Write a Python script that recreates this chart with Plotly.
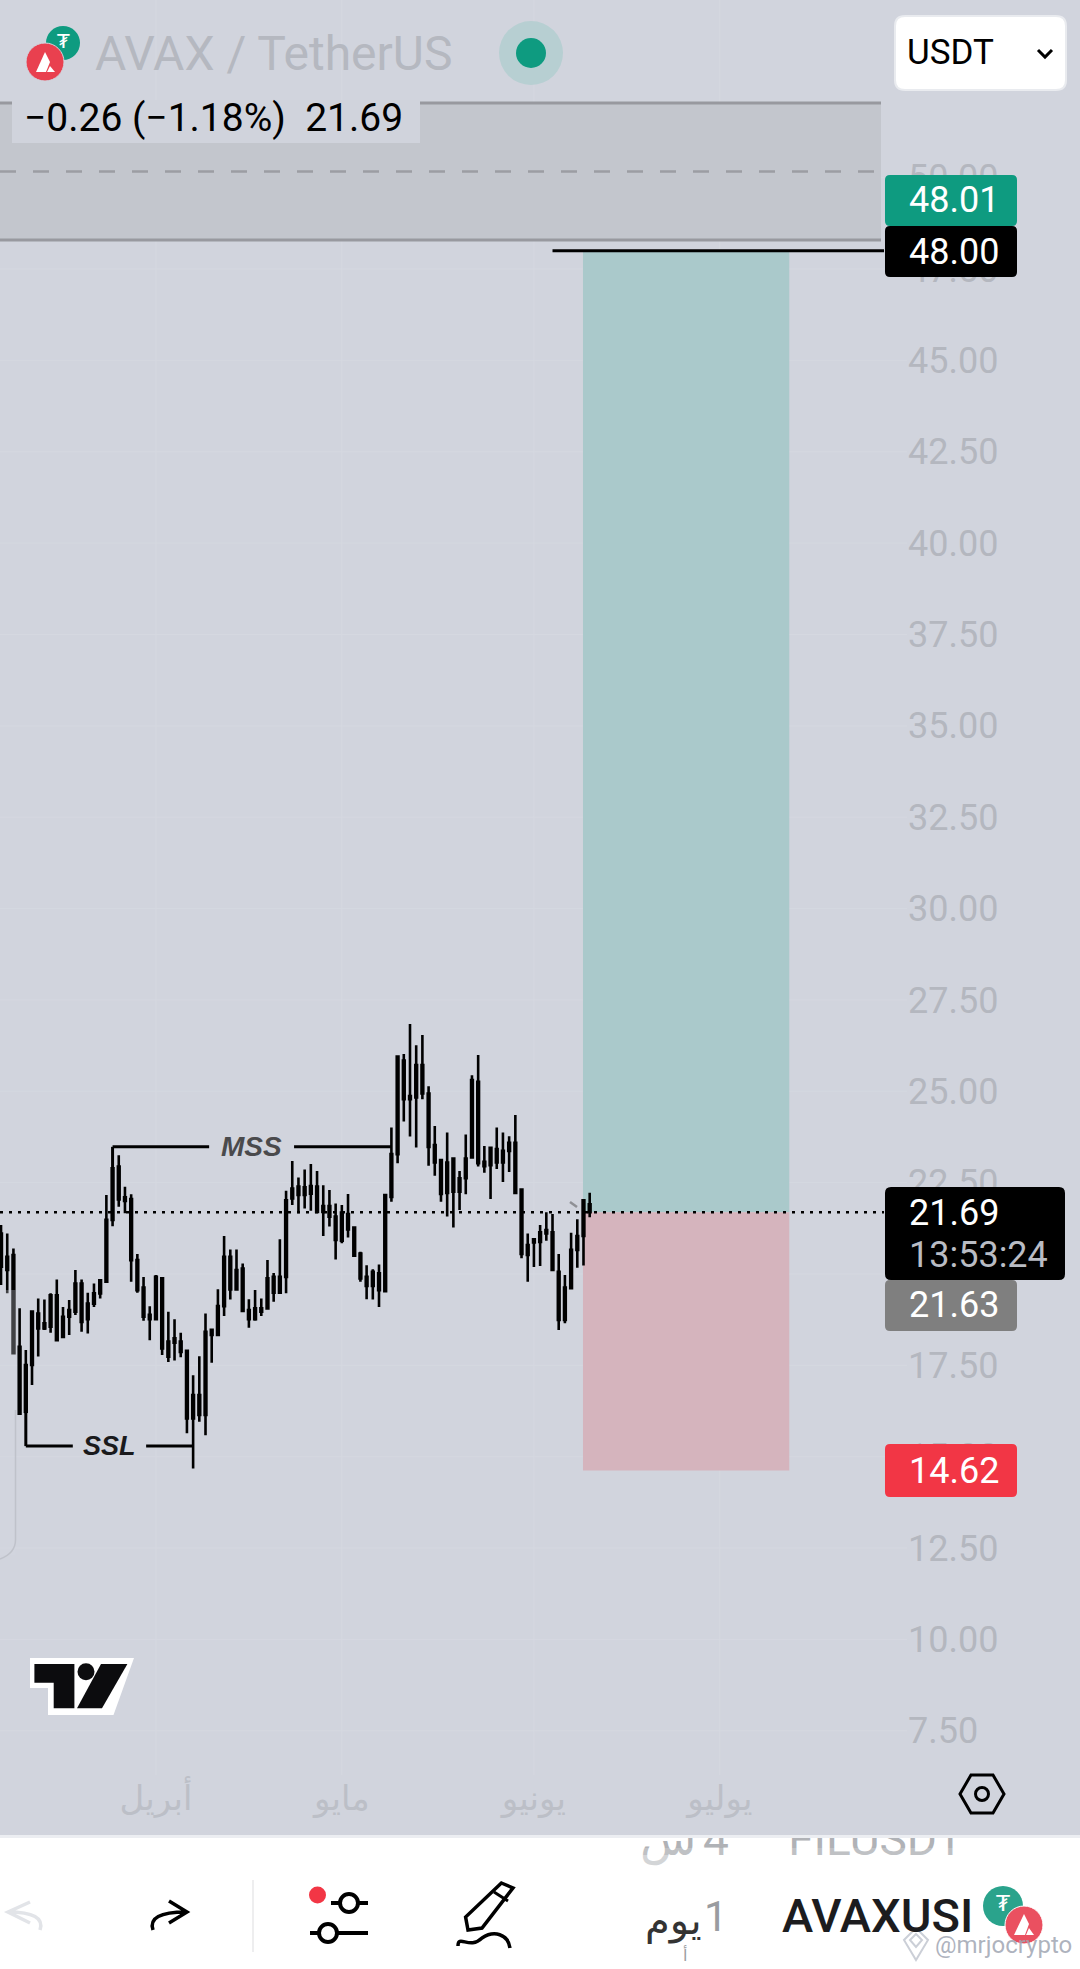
import pandas as pd
import plotly.graph_objects as go

W, H = 1080, 1969
BG = "#d1d4dd"
PANE_R = 907
PANE_B = 1775

# ---------- data ----------
dates = pd.date_range("2025-03-07", "2025-06-10", freq="D").strftime("%Y-%m-%d").tolist()
opens = [21.11,20.11,20.52,18.01,16.23,17.51,18.92,18.51,18.56,19.42,18.28,18.83,18.97,19.74,18.76,19.19,
         19.47,19.79,21.48,22.94,22.10,22.05,20.38,19.63,18.88,18.76,19.88,18.15,18.12,18.15,17.90,16.05,
         16.69,16.14,18.47,18.33,19.12,20.47,19.58,20.15,19.01,18.76,19.06,19.06,19.92,19.49,19.92,22.07,
         22.39,22.16,22.41,22.39,21.70,21.86,21.57,20.91,21.64,21.27,20.56,19.92,19.67,20.02,19.53,22.11,
         23.28,25.84,24.78,24.83,25.72,24.94,23.53,23.12,22.22,23.16,22.25,22.62,23.19,25.26,23.07,22.98,
         23.42,23.05,23.37,23.59,22.31,20.52,20.86,20.88,21.11,21.14,20.06,18.74,19.61,20.66,21.04,21.91]
highs = [21.34,21.11,20.70,19.06,17.92,18.97,19.33,19.30,19.47,19.85,19.10,19.29,20.11,19.85,19.49,19.74,
         19.85,22.16,22.89,23.25,22.39,22.18,20.55,19.92,19.12,19.97,19.92,18.97,18.76,18.39,17.92,17.23,
         17.75,18.92,18.47,19.58,21.04,20.67,20.67,20.29,19.31,19.56,19.33,20.38,20.03,20.95,22.28,23.09,
         22.64,22.86,23.01,22.82,22.43,22.30,21.93,21.89,22.19,21.27,20.61,20.24,20.13,20.26,22.19,24.01,
         25.95,26.02,26.84,26.26,26.54,25.14,24.05,23.14,23.87,23.19,22.82,23.82,25.44,25.99,23.50,23.48,
         24.01,23.87,23.77,24.35,22.34,21.11,20.97,21.34,21.69,21.64,20.55,19.97,21.13,21.50,22.04,22.22]
lows = [19.70,19.47,17.83,16.14,16.18,16.96,17.74,18.47,18.39,18.15,18.24,18.33,18.88,18.42,18.37,19.10,
        19.33,19.79,21.31,21.84,21.66,19.79,19.49,18.72,18.19,18.74,17.78,17.59,17.63,17.72,15.64,14.68,
        15.96,15.59,17.57,18.31,18.85,19.30,19.58,18.97,18.53,18.72,18.85,19.06,19.24,19.49,19.47,21.89,
        21.66,21.79,21.73,21.66,21.04,21.30,20.40,20.84,21.00,20.50,19.79,19.31,19.30,19.10,19.51,21.98,
        23.03,24.17,23.76,23.46,24.78,22.96,22.69,21.98,21.57,21.27,21.75,22.18,23.16,22.94,22.77,22.05,
        22.87,22.52,22.79,22.21,20.43,19.79,20.19,20.22,20.91,20.09,18.47,18.65,19.59,20.17,20.23,21.55]
closes = [20.20,20.47,17.83,16.18,17.51,18.97,18.51,18.65,19.42,18.19,18.83,19.01,19.74,18.69,19.19,19.47,
          19.83,21.48,22.89,22.04,22.00,20.38,19.56,18.83,18.76,19.92,17.96,17.74,18.24,17.87,16.05,16.69,
          16.14,18.42,18.33,19.12,20.47,19.58,20.11,18.99,18.76,19.06,18.97,19.88,19.49,19.92,22.02,22.34,
          22.16,22.37,22.20,21.70,21.86,21.57,20.93,21.68,21.22,20.50,19.88,19.67,20.06,19.56,22.16,23.28,
          25.95,24.78,24.87,25.72,24.94,23.48,23.05,22.19,23.05,22.25,22.62,23.16,25.31,23.03,22.95,23.45,
          23.05,23.37,23.59,22.22,20.55,20.79,20.95,21.14,21.20,20.11,18.74,19.63,20.66,21.04,22.02,21.69]

price_ticks = [7.5,10,12.5,15,17.5,20,22.5,25,27.5,30,32.5,35,37.5,40,42.5,45,47.5,50]
month_ticks = ["2025-04-01","2025-05-01","2025-06-01","2025-07-01"]
month_labels = ["أبريل","مايو","يونيو","يوليو"]

entry, target, stop = 21.69, 48.00, 14.62
mss_level, ssl_level = 23.48, 15.29

FONT = "Roboto, 'DejaVu Sans', sans-serif"
X_START, X_END = "2025-03-06 20:00", "2025-07-31 05:00"

# ---------- pixel helpers for the screen furniture ----------
def fx(x): return x / W
def fy(y): return 1 - y / H

def rect(x0, y0, x1, y1, fill, line=None, lw=0, layer="above"):
    return dict(type="rect", xref="paper", yref="paper", x0=fx(x0), x1=fx(x1), y0=fy(y0), y1=fy(y1),
                fillcolor=fill, line=dict(color=line or fill, width=lw), layer=layer)

def circle(cx, cy, r, fill, line=None, lw=0):
    return dict(type="circle", xref="paper", yref="paper", x0=fx(cx-r), x1=fx(cx+r), y0=fy(cy-r), y1=fy(cy+r),
                fillcolor=fill, line=dict(color=line or fill, width=lw), layer="above")

def path(cmds, fill="rgba(0,0,0,0)", line=None, lw=0, layer="above"):
    out = []
    for c in cmds:
        if isinstance(c, str):
            out.append(c)
        else:
            out.append(f"{fx(c[0]):.5f},{fy(c[1]):.5f}")
    return dict(type="path", xref="paper", yref="paper", path=" ".join(out), fillcolor=fill,
                line=dict(color=line or "rgba(0,0,0,0)", width=lw), layer=layer)

def rrect(x0, y0, x1, y1, r, fill, line=None, lw=0):
    return path(["M",(x0+r,y0),"L",(x1-r,y0),"Q",(x1,y0),(x1,y0+r),"L",(x1,y1-r),"Q",(x1,y1),(x1-r,y1),
                 "L",(x0+r,y1),"Q",(x0,y1),(x0,y1-r),"L",(x0,y0+r),"Q",(x0,y0),(x0+r,y0),"Z"], fill, line, lw)

def poly(pts, fill="rgba(0,0,0,0)", line=None, lw=0, close=True):
    cmds = ["M", pts[0]]
    for p in pts[1:]:
        cmds += ["L", p]
    if close:
        cmds.append("Z")
    return path(cmds, fill, line, lw)

def seg(x0, y0, x1, y1, color, w, dash="solid"):
    return dict(type="line", xref="paper", yref="paper", x0=fx(x0), x1=fx(x1), y0=fy(y0), y1=fy(y1),
                line=dict(color=color, width=w, dash=dash), layer="above")

def label(x, y, text, size, color, anchor="left", **font):
    return dict(xref="paper", yref="paper", x=fx(x), y=fy(y), text=text, showarrow=False, xanchor=anchor,
                yanchor="middle", font=dict(family=FONT, size=size, color=color, **font), borderpad=0)

def dline(x0, y0, x1, y1, color="#000", w=3, dash="solid", layer="above"):
    return dict(type="line", xref="x", yref="y", x0=x0, x1=x1, y0=y0, y1=y1,
                line=dict(color=color, width=w, dash=dash), layer=layer)

# ---------- figure ----------
fig = go.Figure()
fig.add_trace(go.Candlestick(
    x=dates, open=opens, high=highs, low=lows, close=closes,
    increasing=dict(line=dict(color="#000", width=2.6), fillcolor="#000"),
    decreasing=dict(line=dict(color="#000", width=2.6), fillcolor="#000"),
    whiskerwidth=0, hoverinfo="skip", showlegend=False))

# text that the pane edge clips, on a full-page pixel axis
clipped_x = [876, 668, 716]
clipped_y = [1843, 1843, 1843]
clipped_t = ["FILUSDT", "س", "4"]
fig.add_trace(go.Scatter(x=clipped_x, y=clipped_y, text=clipped_t, mode="text", xaxis="x2", yaxis="y2",
                         textposition="middle center", cliponaxis=False, hoverinfo="skip", showlegend=False,
                         textfont=dict(family=FONT, size=46, color="#b0b2b6")))

shapes = []
# white bottom bar, beneath the traces
shapes.append(rect(0, 1836, W, H, "#ffffff", layer="below"))

# faint grid, beneath the position box
grid = "#d5d8e0"
for p in price_ticks:
    shapes.append(dline(X_START, p, X_END, p, color=grid, w=1, layer="below"))
for m in month_ticks:
    shapes.append(dline(m, 6.29, m, 54.863, color=grid, w=1, layer="below"))

# long position box
shapes += [
    dict(type="rect", xref="x", yref="y", x0="2025-06-08 22:00", x1="2025-07-12 05:00", y0=entry, y1=target,
         fillcolor="#aac9cb", line=dict(width=0), layer="below"),
    dict(type="rect", xref="x", yref="y", x0="2025-06-08 22:00", x1="2025-07-12 05:00", y0=stop, y1=entry,
         fillcolor="#d5b4bd", line=dict(width=0), layer="below"),
]
# last price dotted line + target line
shapes.append(dline(X_START, entry, "2025-07-27 12:00", entry, w=2.5, dash="3px,6px"))
shapes.append(dline("2025-06-04 00:00", target, "2025-07-27 12:00", target, w=3))

# MSS / SSL brackets
shapes += [
    dline("2025-03-25", mss_level, "2025-03-25", 22.89),
    dline("2025-03-25", mss_level, "2025-04-09 14:00", mss_level),
    dline("2025-04-23 07:00", mss_level, "2025-05-09", mss_level),
    dline("2025-03-11", ssl_level, "2025-03-11", 16.2),
    dline("2025-03-11", ssl_level, "2025-03-18 14:00", ssl_level),
    dline("2025-03-30 10:00", ssl_level, "2025-04-07", ssl_level),
]

# left side panel ghost
shapes.append(rect(0, 1290, 15.5, 1555, "rgba(213,216,224,0.3)"))
shapes.append(path(["M",(15.5,1410),"L",(15.5,1540),"Q",(15.5,1553),(0,1559)], line="#bfc2ca", lw=1.5))
shapes.append(seg(570, 1202, 577, 1207, "#8f9095", 2.5))

# top band
shapes.append(rect(0, 103, 881, 240, "#c3c6cd"))
shapes.append(seg(0, 103, 881, 103, "#98999f", 3))
shapes.append(seg(0, 240, 881, 240, "#98999f", 3))
shapes.append(seg(0, 171.5, 881, 171.5, "#9c9da3", 2.5, dash="16px,17px"))
shapes.append(rect(12, 100, 420, 143, "#d0d3dc"))

# right tags
shapes += [
    rrect(885, 175, 1017, 226, 5, "#0e9b80"),
    rrect(885, 226, 1017, 277, 5, "#000000"),
    rrect(885, 1187, 1065, 1280, 6, "#000000"),
    rrect(885, 1280, 1017, 1331, 5, "#7f7f7f"),
    rrect(885, 1444, 1017, 1497, 5, "#f23645"),
]

# header icons
shapes += [
    circle(63, 43, 17, "#0e9b80"),
    circle(45, 62, 19, "#e9404f", "#d1d4dd", 1),
    poly([(45,52),(50,62),(46,72),(36,72)], "#ffffff"),
    poly([(50,66),(55,72),(47,72)], "#ffffff"),
    circle(531, 53, 32, "#b7cfd2"),
    circle(531, 53, 15, "#0e9b80"),
]
# USDT select
shapes.append(rrect(895, 16, 1066, 90, 10, "#ffffff", "#e9ebef", 2))
shapes.append(path(["M",(1038,50),"L",(1045,57),"L",(1052,50)], line="#000", lw=3))

# tradingview logo
shapes += [
    poly([(30,1658),(134,1658),(113.5,1715),(48,1715),(48,1688),(30,1688)], "#ffffff"),
    poly([(34.4,1664),(74.4,1664),(74.4,1708.3),(53.7,1708.3),(53.7,1682.7),(34.4,1682.7)], "#0c0c0e"),
    circle(86, 1671.7, 8.5, "#0c0c0e"),
    poly([(101,1664),(127.4,1664),(102,1708.3),(77,1708.3)], "#0c0c0e"),
]
# settings hexagon
shapes += [
    poly([(960,1794),(971,1775),(993,1775),(1004,1794),(993,1813),(971,1813)], line="#000", lw=3),
    circle(982, 1794, 6.5, "rgba(0,0,0,0)", "#000", 3),
]

# bottom bar furniture
shapes.append(rect(620, 1820, 980, 1835.5, BG))
shapes.append(rect(0, 1835, W, 1838, "#eceef2"))
shapes.append(rect(620, 1848, 980, 1855, "rgba(255,255,255,0.2)"))
shapes.append(rect(620, 1855, 980, 1866, "rgba(255,255,255,0.45)"))
shapes.append(seg(253, 1880, 253, 1952, "#e8e8ea", 1.5))
# undo / redo
shapes += [
    path(["M",(40,1930),"Q",(46,1912),(8,1912),"M",(30,1902),"L",(8,1912),"L",(30,1923)], line="#e2e4e8", lw=3.5),
    path(["M",(153,1930),"Q",(147,1912),(186,1912),"M",(169,1901),"L",(187,1912),"L",(169,1923)], line="#000", lw=3.5),
]
# sliders
shapes += [
    circle(317.5, 1895, 8.5, "#f23645"),
    seg(331, 1903, 368, 1903, "#000", 4),
    circle(349, 1903, 9, "#ffffff", "#000", 4),
    seg(310, 1933, 368, 1933, "#000", 4),
    circle(328, 1933, 9, "#ffffff", "#000", 4),
]
# pencil
shapes += [
    poly([(501.4,1883),(513,1888),(482,1928),(468,1930),(465.6,1917)], line="#000", lw=3.5),
    seg(494, 1892, 508, 1901, "#000", 3),
    path(["M",(458,1946),"C",(458,1934),(470,1950),(482,1938),"C",(494,1930),(508,1934),(510,1948)], line="#000", lw=3.5),
]
# toolbar symbol icons
shapes += [
    circle(1003, 1906, 20, "#2aa38c"),
    circle(1024, 1925, 19, "#ea5060", "#ffffff", 1),
    poly([(1024,1914),(1029,1924),(1025,1935),(1014,1935)], "#ffffff"),
    poly([(1029,1928),(1034,1935),(1026,1935)], "#ffffff"),
    poly([(916,1928),(928,1940),(916,1960),(904,1940)], line="rgba(190,195,205,0.8)", lw=2),
    poly([(916,1934),(922,1940),(916,1947),(910,1940)], line="rgba(190,195,205,0.8)", lw=2),
]

annotations = [
    dict(x="2025-04-16 10:00", y=mss_level, xref="x", yref="y", text="MSS", showarrow=False,
         font=dict(family="Liberation Sans", size=28, color="#4a4a4c", weight=700, style="italic")),
    dict(x="2025-03-24 12:00", y=ssl_level, xref="x", yref="y", text="SSL", showarrow=False,
         font=dict(family="Liberation Sans", size=27, color="#1a1a1c", weight=700, style="italic")),
    label(94, 53, "AVAX / TetherUS", 48, "#b5b8c0"),
    label(63, 41, "₮", 20, "#ffffff", "center"),
    label(906, 52, "USDT", 35, "#000000"),
    label(23, 118, "−0.26 (−1.18%)  21.69", 39, "#000000"),
    label(908, 200, "48.01", 36, "#ffffff"),
    label(908, 252, "48.00", 36, "#ffffff"),
    label(908, 1213, "21.69", 36, "#ffffff"),
    label(908, 1255, "13:53:24", 36, "#b9bcc4"),
    label(908, 1305, "21.63", 36, "#ffffff"),
    label(908, 1471, "14.62", 36, "#ffffff"),
    label(781, 1915, "AVAXUSI", 47, "#1c1c1e", weight=500),
    label(673, 1920, "يوم", 40, "#333333", "center"),
    label(716, 1916, "1", 42, "#9a9ca0", "center"),
    label(1003, 1903, "₮", 22, "#ffffff", "center"),
    label(685, 1955, "أ", 16, "#9a9ca0", "center"),
    label(1003, 1945, "@mrjocrypto", 24, "rgba(160,165,178,0.85)", "center"),
]

fig.update_layout(
    width=W, height=H, autosize=False,
    margin=dict(l=0, r=0, t=0, b=0),
    paper_bgcolor=BG, plot_bgcolor="rgba(0,0,0,0)",
    boxgap=0.6,
    showlegend=False, shapes=shapes, annotations=annotations,
    xaxis=dict(domain=[0, PANE_R / W], range=[X_START, X_END], type="date",
               tickvals=month_ticks, ticktext=month_labels, rangeslider=dict(visible=False),
               showgrid=False, zeroline=False, showline=False, ticks="",
               tickfont=dict(family=FONT, size=34, color="#bcbfc7"), anchor="y"),
    yaxis=dict(domain=[1 - PANE_B / H, 1], range=[6.29, 54.863], side="right", tickvals=price_ticks,
               tickformat=".2f", showgrid=False, zeroline=False, showline=False,
               ticks="", tickfont=dict(family=FONT, size=36, color="#b4b7bf"), anchor="x"),
    xaxis2=dict(domain=[0, 1], range=[0, W], visible=False, anchor="y2", fixedrange=True),
    yaxis2=dict(domain=[0, 1], range=[H, 0], visible=False, anchor="x2", fixedrange=True),
)
fig.write_html("out.html", config=dict(displayModeBar=False), default_width=W, default_height=H,
               post_script="document.body.style.margin='0';document.body.style.overflow='hidden';")
